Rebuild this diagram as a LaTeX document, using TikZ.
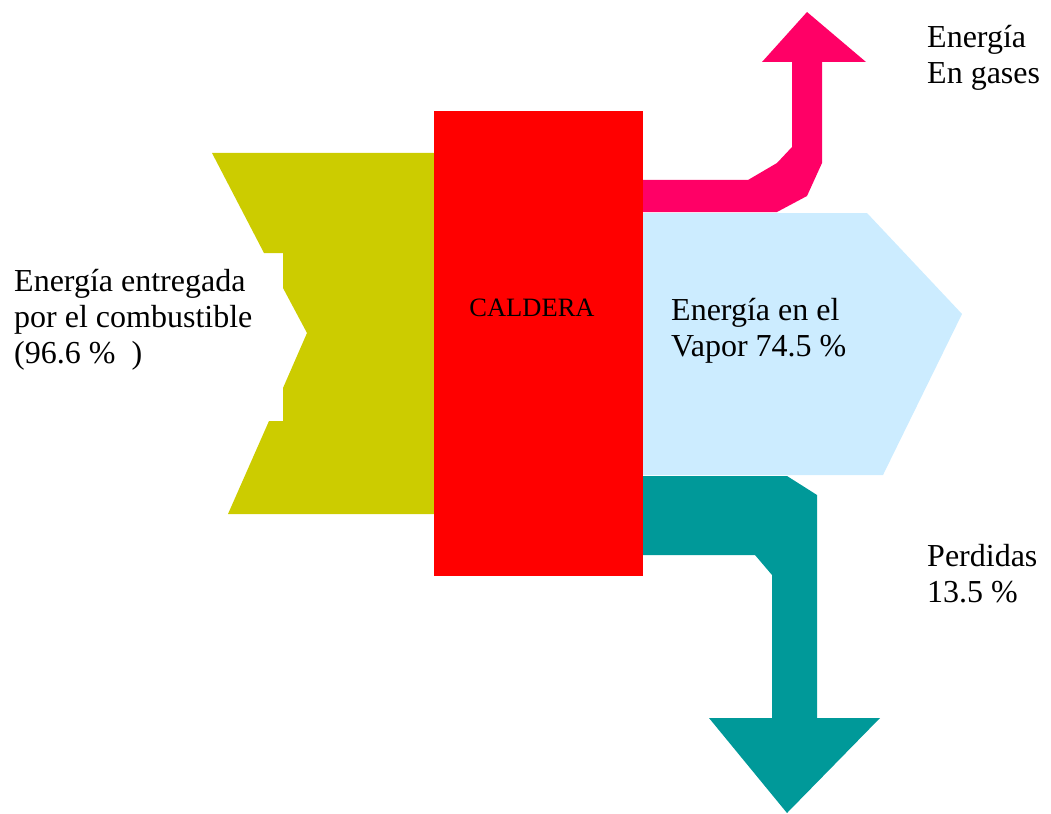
\documentclass[tikz,border=0pt]{standalone}
\usepackage{fontspec}
\setmainfont{Liberation Serif}
\definecolor{fuel}{HTML}{CCCC00}
\definecolor{boiler}{HTML}{FF0000}
\definecolor{steam}{HTML}{CCECFF}
\definecolor{flue}{HTML}{FF0066}
\definecolor{loss}{HTML}{009999}
% multi-line labels are anchored at the baseline of their last line
\tikzset{
  label text/.style={inner sep=0pt, anchor=base west, align=left,
    font=\fontsize{32}{36}\selectfont},
}
\begin{document}
\begin{tikzpicture}[x=1pt,y=-1pt]
\useasboundingbox (0,0) rectangle (1051,813);
% fuel input band
\fill[fuel] (212,153) -- (434,153) -- (434,514) -- (228,514) -- (269,421)
  -- (283,421) -- (283,388) -- (307,333) -- (283,288) -- (283,253)
  -- (264,253) -- cycle;
% steam output
\fill[steam] (643,213) -- (867,213) -- (962,314) -- (883,475) -- (643,475) -- cycle;
% flue gas arrow
\fill[flue] (643,180) -- (748,180) -- (777,163) -- (792,147) -- (792,62)
  -- (762,62) -- (807,12) -- (866,62) -- (822,62) -- (822,163)
  -- (807,196) -- (777,212) -- (643,212) -- cycle;
% losses arrow
\fill[loss] (643,476) -- (787,476) -- (817,495) -- (817,718) -- (880,718)
  -- (787,813) -- (709,718) -- (772,718) -- (772,575) -- (755,555)
  -- (643,555) -- cycle;
% boiler
\node[fill=boiler, minimum width=209pt, minimum height=465pt, inner sep=0pt,
  anchor=north west] (caldera) at (434,111) {};
\node[inner sep=0pt, font=\fontsize{26.5}{30}\selectfont] (calderatxt)
  at (532,308) {CALDERA};
% labels
\node[label text] (fuellbl) at (14,363)
  {Energía entregada\\por el combustible\\(96.6 \% \ )};
\node[label text] (steamlbl) at (671,356) {Energía en el\\Vapor 74.5 \%};
\node[label text] (fluelbl) at (927,84) {Energía\\En gases};
\node[label text] (losslbl) at (927,602) {Perdidas\\13.5 \%};
\end{tikzpicture}
\end{document}
